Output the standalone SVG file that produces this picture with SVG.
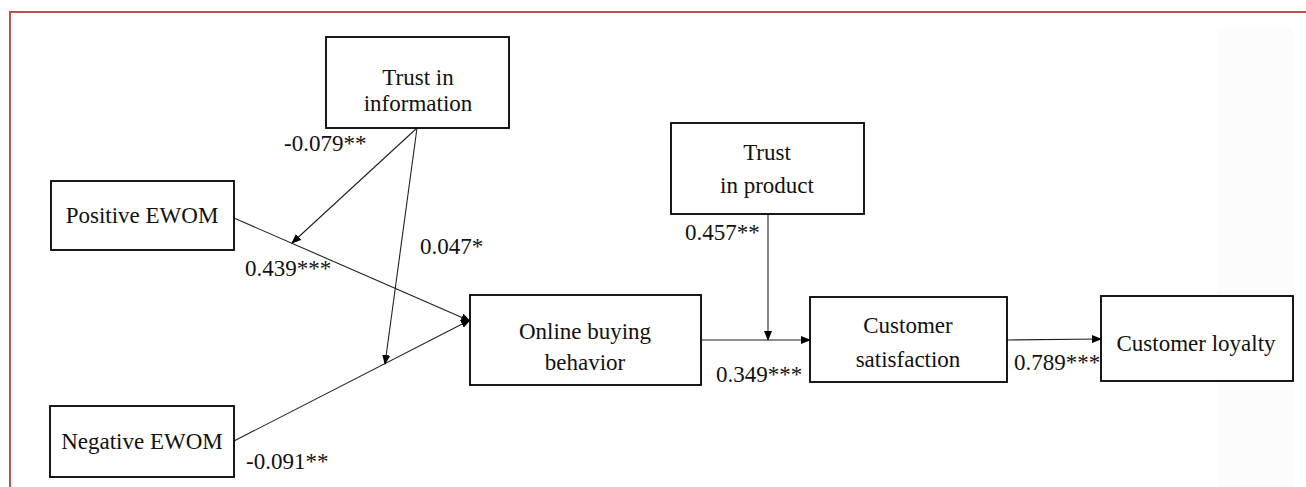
<svg xmlns="http://www.w3.org/2000/svg" width="1306" height="487" viewBox="0 0 1306 487">
<style>
.box{fill:#fff;stroke:#000;stroke-width:1.8}
.t{font-size:23px;fill:#111;text-anchor:middle}
.l{font-size:23px;fill:#111}
.c{fill:none;stroke:#222;stroke-width:1.1}
</style>
<defs>
<marker id="ah" markerWidth="10" markerHeight="8" refX="9" refY="4" orient="auto" markerUnits="userSpaceOnUse">
<path d="M0,0 L10,4 L0,8 Z" fill="#000"/>
</marker>
</defs>
<rect x="0" y="0" width="1306" height="487" fill="#fff"/>
<rect x="1217" y="28" width="77" height="459" fill="#fcfcfc"/>
<path d="M10,487 V12 H1306" fill="none" stroke="#bf514e" stroke-width="2"/>
<g font-family="Liberation Serif, DejaVu Serif, serif">
<g id="connectors">
<line class="c" x1="234" y1="218" x2="470" y2="321" marker-end="url(#ah)"/>
<line class="c" x1="234" y1="441" x2="470" y2="320" marker-end="url(#ah)"/>
<line class="c" x1="417" y1="128" x2="292" y2="243" marker-end="url(#ah)"/>
<line class="c" x1="417" y1="128" x2="385" y2="364" marker-end="url(#ah)"/>
<line class="c" x1="768" y1="214" x2="768" y2="340" marker-end="url(#ah)"/>
<line class="c" x1="701" y1="340" x2="810" y2="340" marker-end="url(#ah)"/>
<line class="c" x1="1007" y1="340" x2="1101" y2="339" marker-end="url(#ah)"/>
<text class="l" x="284" y="151">-0.079**</text>
<text class="l" x="420" y="254">0.047*</text>
<text class="l" x="245" y="276">0.439***</text>
<text class="l" x="246" y="469">-0.091**</text>
<text class="l" x="685" y="240">0.457**</text>
<text class="l" x="716" y="382">0.349***</text>
<text class="l" x="1014" y="370">0.789***</text>
</g>
<g id="trust-information">
<rect class="box" x="326" y="37" width="183" height="91"/>
<text class="t" x="418" y="85">Trust in</text>
<text class="t" x="418" y="111">information</text>
</g>
<g id="positive-ewom">
<rect class="box" x="51" y="181" width="183" height="69"/>
<text class="t" x="142" y="223">Positive EWOM</text>
</g>
<g id="negative-ewom">
<rect class="box" x="50" y="406" width="184" height="71"/>
<text class="t" x="142" y="449">Negative EWOM</text>
</g>
<g id="online-buying">
<rect class="box" x="470" y="295" width="231" height="90"/>
<text class="t" x="585" y="339">Online buying</text>
<text class="t" x="585" y="370">behavior</text>
</g>
<g id="trust-product">
<rect class="box" x="671" y="123" width="193" height="91"/>
<text class="t" x="767" y="160">Trust</text>
<text class="t" x="767" y="193">in product</text>
</g>
<g id="customer-satisfaction">
<rect class="box" x="810" y="297" width="197" height="85"/>
<text class="t" x="908" y="333">Customer</text>
<text class="t" x="908" y="367">satisfaction</text>
</g>
<g id="customer-loyalty">
<rect class="box" x="1101" y="296" width="192" height="85"/>
<text class="t" x="1196" y="351">Customer loyalty</text>
</g>
</g>
</svg>
